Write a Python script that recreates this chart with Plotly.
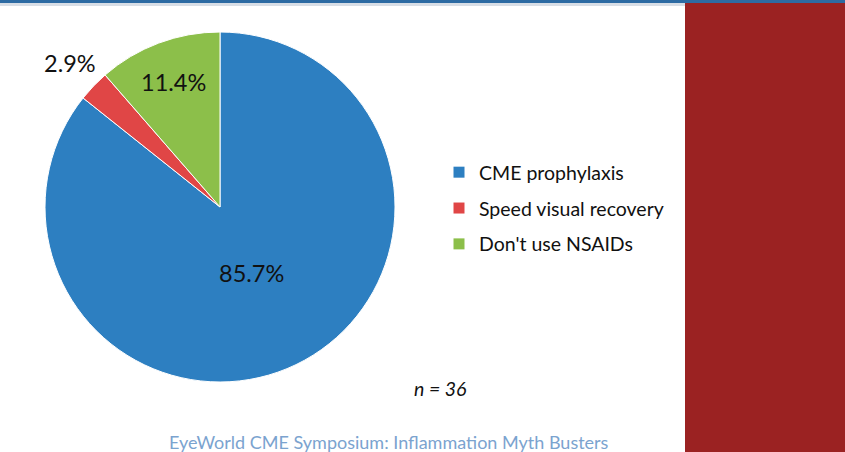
import math
import plotly.graph_objects as go

categories = ["CME prophylaxis", "Speed visual recovery", "Don't use NSAIDs"]
values = [85.7, 2.9, 11.4]
slice_labels = ["85.7%", "2.9%", "11.4%"]
colors = ["#2D7FC1", "#E04646", "#8CBF4A"]
sample_note = "<i>n = 36</i>"
footer = "EyeWorld CME Symposium: Inflammation Myth Busters"

W, H = 845, 452
cx, cy, r = 220, 207, 175
label_radius = [0.42, 1.19, 0.76]  # label distance from centre, as fraction of radius

fig = go.Figure()
fig.add_trace(go.Pie(
    labels=categories,
    values=values,
    textinfo="none",
    sort=False,
    direction="clockwise",
    rotation=0,
    marker=dict(colors=colors, line=dict(color="white", width=1)),
    domain=dict(x=[(cx - r) / W, (cx + r) / W], y=[(H - cy - r) / H, (H - cy + r) / H]),
    showlegend=False,
    hoverinfo="skip",
))

# legend entries (one per category, so the rows can be spaced like the original)
for cat, col in zip(categories, colors):
    fig.add_trace(go.Scatter(
        x=[None], y=[None], mode="markers", name=cat, legendgroup=cat,
        marker=dict(symbol="square", size=11, color=col),
        hoverinfo="skip",
    ))

# slice labels placed at each slice's mid-angle
annotations = []
total = sum(values)
cum = 0.0
for v, txt, f in zip(values, slice_labels, label_radius):
    mid = (cum + v / 2) / total * 2 * math.pi
    cum += v
    px = cx + f * r * math.sin(mid)
    py = cy - f * r * math.cos(mid)
    annotations.append(dict(
        text=txt, x=px / W, y=(H - py) / H, xref="paper", yref="paper",
        xanchor="center", yanchor="middle", showarrow=False,
        font=dict(family="Lato", size=23.5, color="#111111"),
    ))

annotations += [
    dict(text=sample_note, x=440 / W, y=(H - 388) / H, xref="paper", yref="paper",
         xanchor="center", yanchor="middle",
         showarrow=False, font=dict(family="Lato", size=19.5, color="#111111")),
    dict(text=footer, x=389 / W, y=(H - 442) / H, xref="paper", yref="paper",
         xanchor="center", yanchor="middle",
         showarrow=False, font=dict(family="Lato", size=18, color="#7BA3CF")),
]

fig.update_layout(
    width=W, height=H,
    margin=dict(l=0, r=0, t=0, b=0),
    paper_bgcolor="white",
    plot_bgcolor="white",
    font=dict(family="Lato", color="#111111"),
    xaxis=dict(visible=False),
    yaxis=dict(visible=False),
    legend=dict(
        x=439 / W, y=(H - 153) / H, xanchor="left", yanchor="top",
        font=dict(family="Lato", size=19.5, color="#111111"),
        itemwidth=30, bgcolor="rgba(0,0,0,0)", tracegroupgap=7.5,
    ),
    shapes=[
        dict(type="rect", xref="paper", yref="paper", x0=685 / W, x1=1, y0=0, y1=1 - 3 / H,
             fillcolor="#9B2222", line=dict(width=0), layer="above"),
        dict(type="rect", xref="paper", yref="paper", x0=0, x1=1, y0=1 - 3 / H, y1=1,
             fillcolor="#2D6BA3", line=dict(width=0), layer="above"),
        dict(type="rect", xref="paper", yref="paper", x0=0, x1=685 / W, y0=1 - 6 / H, y1=1 - 3 / H,
             fillcolor="#D8DEE6", line=dict(width=0), layer="above"),
    ],
    annotations=annotations,
)

fig.write_html(
    "out.html",
    config={"displayModeBar": False},
    post_script="document.body.style.margin='0';document.body.style.overflow='hidden';",
)
